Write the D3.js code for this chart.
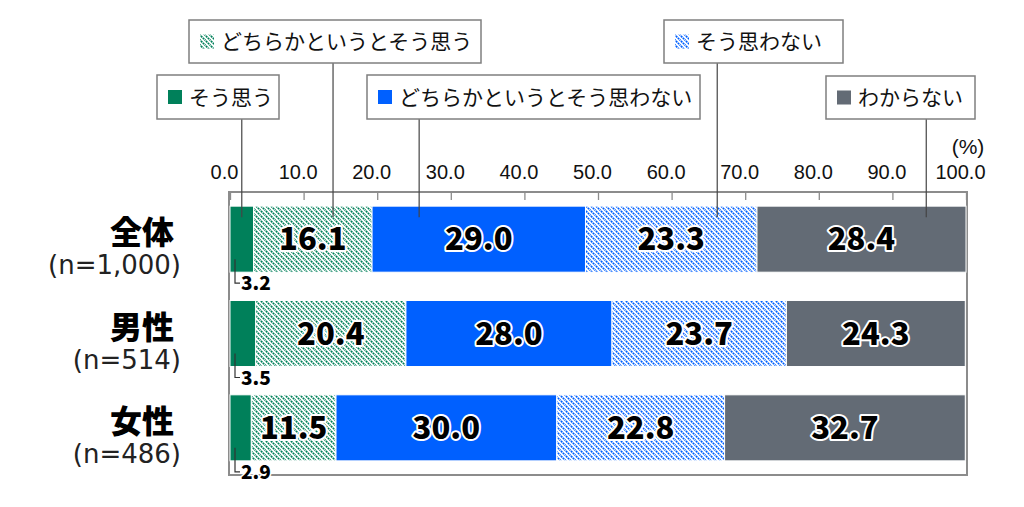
<!DOCTYPE html>
<html>
<head>
<meta charset="utf-8">
<script src="https://cdn.jsdelivr.net/npm/d3@7"></script>
<style>
  body { margin: 0; background: #fff; }
  text { font-family: "Noto Sans CJK JP", "Noto Sans", sans-serif; }
</style>
</head>
<body>
<svg id="chart"></svg>
<script>
// data
const groups = ['全体', '男性', '女性'];
const sampleSizes = ['(n=1,000)', '(n=514)', '(n=486)'];
const answers = ['そう思う', 'どちらかというとそう思う', 'どちらかというとそう思わない', 'そう思わない', 'わからない'];
const valsAgree = [3.2, 3.5, 2.9];
const valsSomewhatAgree = [16.1, 20.4, 11.5];
const valsSomewhatDisagree = [29.0, 28.0, 30.0];
const valsDisagree = [23.3, 23.7, 22.8];
const valsDontKnow = [28.4, 24.3, 32.7];
const xTicks = [0, 10, 20, 30, 40, 50, 60, 70, 80, 90, 100];
// where each legend callout points on the first bar (axis units)
const pointerAt = [1.6, 14.0, 25.7, 66.2, 94.6];

const width = 1024, height = 507;
const margin = { top: 192, right: 58, bottom: 32, left: 230 };

const colors = ['#00805a', 'url(#hatchGreen)', '#0060ff', 'url(#hatchBlue)', '#636b75'];

// callout boxes (pixel layout)
const boxes = [
  { x: 157, y: 75, w: 122, h: 44 },
  { x: 189, y: 20, w: 292, h: 43 },
  { x: 367, y: 75, w: 333, h: 44 },
  { x: 664, y: 20, w: 179, h: 43 },
  { x: 826, y: 76, w: 149, h: 43 }
];

const table = groups.map((g, i) => ({
  group: g,
  [answers[0]]: valsAgree[i],
  [answers[1]]: valsSomewhatAgree[i],
  [answers[2]]: valsSomewhatDisagree[i],
  [answers[3]]: valsDisagree[i],
  [answers[4]]: valsDontKnow[i]
}));

const svg = d3.select('#chart')
  .attr('width', width)
  .attr('height', height);

// hatch patterns
const defs = svg.append('defs');
function hatch(id, color) {
  const s = 5;
  const p = defs.append('pattern')
    .attr('id', id)
    .attr('patternUnits', 'userSpaceOnUse')
    .attr('width', s).attr('height', s);
  p.append('rect').attr('width', s).attr('height', s).attr('fill', '#fff');
  p.append('path')
    .attr('d', `M-1,-1 L${s + 1},${s + 1} M-1,${s - 1} L1,${s + 1} M${s - 1},-1 L${s + 1},1`)
    .attr('stroke', color)
    .attr('stroke-width', 1.7)
    .attr('stroke-dasharray', '2,0.7');
}
hatch('hatchGreen', '#00805a');
hatch('hatchBlue', '#0060ff');

const x = d3.scaleLinear()
  .domain([0, 100])
  .range([margin.left, width - margin.right]);

const y = d3.scaleBand()
  .domain(groups)
  .range([margin.top, height - margin.bottom])
  .paddingInner(0.3)
  .paddingOuter(0.15);

// frame
svg.append('rect')
  .attr('x', x(0) - 1).attr('y', margin.top)
  .attr('width', x(100) - x(0) + 2)
  .attr('height', height - margin.bottom - margin.top)
  .attr('fill', 'none')
  .attr('stroke', '#8c8c8c')
  .attr('stroke-width', 2);

// top axis
const axis = d3.axisTop(x)
  .tickValues(xTicks)
  .tickSize(-8)
  .tickFormat(d => d.toFixed(1));
const axisG = svg.append('g')
  .attr('transform', `translate(0, ${margin.top})`)
  .call(axis);
axisG.select('.domain').remove();
axisG.selectAll('.tick line').attr('stroke', '#8c8c8c').attr('stroke-width', 1.3);
axisG.selectAll('.tick text')
  .attr('y', -13)
  .attr('dx', -6)
  .attr('fill', '#111')
  .style('font-family', '"Liberation Sans", Arial, sans-serif')
  .style('font-size', '20px');

svg.append('text')
  .attr('x', x(100) + 2).attr('y', 154)
  .attr('text-anchor', 'middle')
  .style('font-family', '"Liberation Sans", Arial, sans-serif')
  .style('font-size', '21px')
  .attr('fill', '#111')
  .text('(%)');

// bars
const series = d3.stack().keys(answers)(table);

const layers = svg.append('g')
  .selectAll('g')
  .data(series)
  .join('g')
  .attr('fill', (d, i) => colors[i]);

layers.selectAll('rect')
  .data(d => d)
  .join('rect')
  .attr('x', d => x(d[0]))
  .attr('y', d => y(d.data.group))
  .attr('width', d => x(d[1]) - x(d[0]))
  .attr('height', y.bandwidth())
  .attr('stroke', '#fff')
  .attr('stroke-width', 1);

// big value labels
series.slice(1).forEach(s => {
  svg.append('g')
    .selectAll('text')
    .data(s)
    .join('text')
    .attr('x', d => (x(d[0]) + x(d[1])) / 2)
    .attr('y', d => y(d.data.group) + y.bandwidth() / 2)
    .attr('dy', '0.36em')
    .attr('text-anchor', 'middle')
    .style('font-size', '31px')
    .style('font-weight', 900)
    .attr('fill', '#000')
    .attr('stroke', '#fff')
    .attr('stroke-width', 4)
    .attr('stroke-linejoin', 'round')
    .attr('paint-order', 'stroke')
    .text(d => (d[1] - d[0]).toFixed(1));
});

// small labels for the first segment, below the bar with a bracket
const small = svg.append('g');
series[0].forEach(d => {
  const bx = x(0) + 5;
  const bottom = y(d.data.group) + y.bandwidth();
  small.append('path')
    .attr('d', `M${bx},${bottom - 13} V${bottom + 11} H${bx + 5}`)
    .attr('fill', 'none')
    .attr('stroke', '#333')
    .attr('stroke-width', 1.2);
  small.append('text')
    .attr('x', bx + 6)
    .attr('y', bottom + 18)
    .style('font-size', '19px')
    .style('font-weight', 900)
    .attr('fill', '#000')
    .attr('stroke', '#fff')
    .attr('stroke-width', 3)
    .attr('paint-order', 'stroke')
    .text((d[1] - d[0]).toFixed(1));
});

// category labels
const cat = svg.append('g');
groups.forEach((g, i) => {
  const cy = y(g) + y.bandwidth() / 2;
  cat.append('text')
    .attr('x', 174).attr('y', cy + 5)
    .attr('text-anchor', 'end')
    .style('font-size', '32px')
    .style('font-weight', 900)
    .attr('fill', '#000')
    .text(g);
  cat.append('text')
    .attr('x', 181).attr('y', cy + 35)
    .attr('text-anchor', 'end')
    .style('font-family', '"DejaVu Sans", sans-serif')
    .style('font-size', '26px')
    .attr('fill', '#222')
    .text(sampleSizes[i]);
});

// legend callouts
const topBar = y(groups[0]);
const legend = svg.append('g');
answers.forEach((a, i) => {
  const b = boxes[i];
  const px = x(pointerAt[i]);
  legend.append('line')
    .attr('x1', px).attr('x2', px)
    .attr('y1', b.y + b.h).attr('y2', topBar + 11)
    .attr('stroke', '#444')
    .attr('stroke-width', 1.2);
  legend.append('rect')
    .attr('x', b.x).attr('y', b.y)
    .attr('width', b.w).attr('height', b.h)
    .attr('fill', '#fff')
    .attr('stroke', '#7f7f7f')
    .attr('stroke-width', 1.5);
  const cy = b.y + b.h / 2;
  legend.append('rect')
    .attr('x', b.x + 11).attr('y', cy - 7)
    .attr('width', 14).attr('height', 14)
    .attr('fill', colors[i]);
  legend.append('text')
    .attr('x', b.x + 32).attr('y', cy)
    .attr('dy', '0.36em')
    .style('font-size', '21px')
    .attr('fill', '#111')
    .text(a);
});
</script>
</body>
</html>
